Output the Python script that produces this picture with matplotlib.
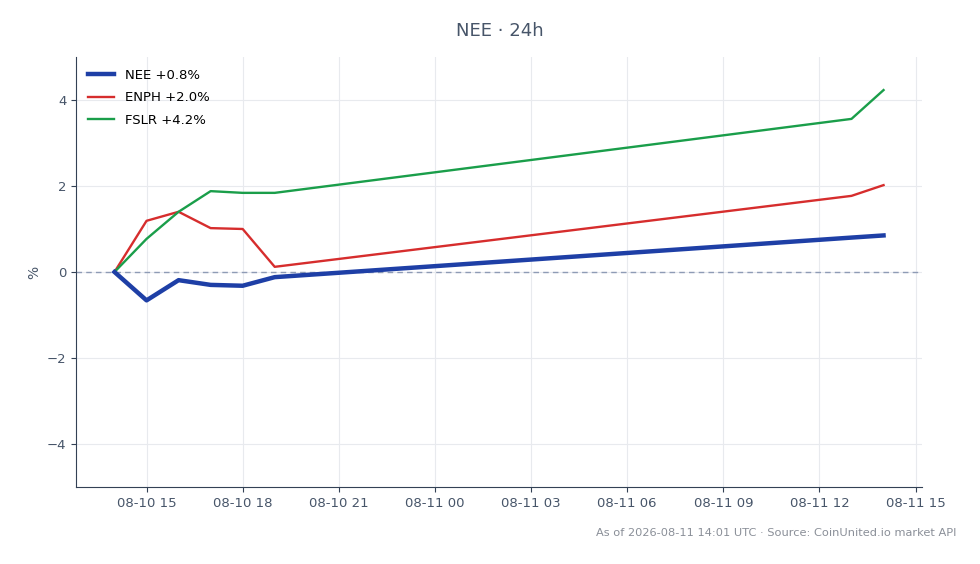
import matplotlib
matplotlib.use("Agg")
import matplotlib.pyplot as plt
import matplotlib.dates as mdates
import pandas as pd

times = ["2026-08-10 14:00", "2026-08-10 15:00", "2026-08-10 16:00", "2026-08-10 17:00",
         "2026-08-10 18:00", "2026-08-10 19:00", "2026-08-11 13:00", "2026-08-11 14:00"]
nee = [0.0, -0.66, -0.19, -0.30, -0.32, -0.12, 0.80, 0.85]
enph = [0.0, 1.19, 1.40, 1.02, 1.00, 0.12, 1.77, 2.02]
fslr = [0.0, 0.77, 1.40, 1.88, 1.84, 1.84, 3.56, 4.23]
labels = ["NEE +0.8%", "ENPH +2.0%", "FSLR +4.2%"]
title = "NEE · 24h"
footer = "As of 2026-08-11 14:01 UTC · Source: CoinUnited.io market API"

t = pd.to_datetime(times)
text_c = "#475569"

fig = plt.figure(figsize=(9.8, 5.64), dpi=100)
ax = fig.add_axes([0.0776, 0.1365, 0.8632, 0.7625])
ax.plot(t, nee, color="#1e3fa6", lw=3.2, label=labels[0], zorder=4)
ax.plot(t, enph, color="#d62d2d", lw=1.7, label=labels[1], zorder=3)
ax.plot(t, fslr, color="#1a9e4a", lw=1.7, label=labels[2], zorder=3)
ax.axhline(0, color="#8e9bb5", lw=1, ls=(0, (4, 3)), zorder=2)

ax.set_ylim(-5, 5)
ax.set_yticks([-4, -2, 0, 2, 4])
ax.set_yticklabels(["\u22124", "\u22122", "0", "2", "4"])
ax.margins(x=0.05)
ax.xaxis.set_major_locator(mdates.HourLocator(byhour=[0, 3, 6, 9, 12, 15, 18, 21]))
ax.xaxis.set_major_formatter(mdates.DateFormatter("%m-%d %H"))
ax.set_ylabel("%", color=text_c, fontsize=10)
ax.grid(True, color="#e8eaee", lw=0.8)
ax.set_axisbelow(True)
for s in ["top", "right"]:
    ax.spines[s].set_visible(False)
for s in ["left", "bottom"]:
    ax.spines[s].set_color("#334155")
ax.tick_params(colors=text_c, labelsize=9.5)
ax.tick_params(axis="both", color="#334155")
leg = ax.legend(loc="upper left", frameon=False, fontsize=9.5, labelspacing=0.72)

fig.text(0.51, 0.945, title, ha="center", va="center", fontsize=13, color=text_c)
fig.text(0.976, 0.055, footer, ha="right", va="center", fontsize=8.2, color="#8a8f98")
fig.savefig("out.png", dpi=100)
